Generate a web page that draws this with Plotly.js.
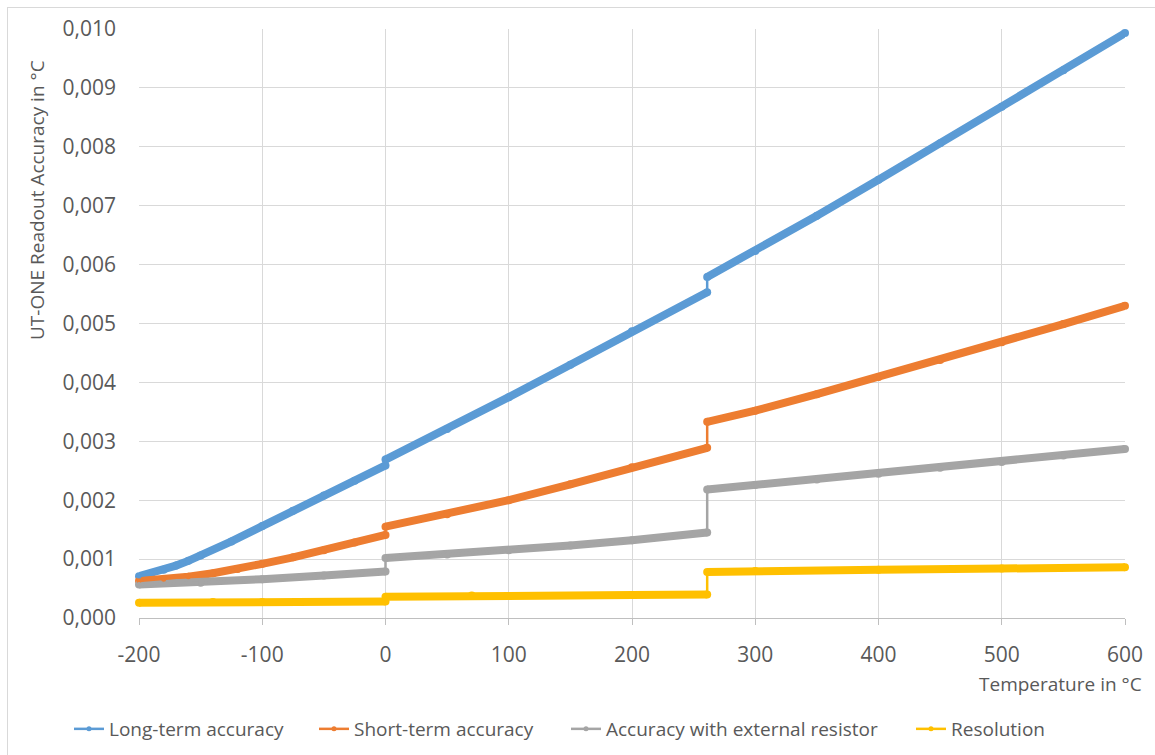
<!DOCTYPE html>
<html>
<head>
<meta charset="utf-8">
<script src="https://cdn.plot.ly/plotly-3.0.1.min.js"></script>
<style>
html,body{margin:0;padding:0;background:#fff;}
#wrap{position:relative;width:1155px;height:755px;}
#frame{position:absolute;left:7px;top:7px;width:1148px;height:748px;border-top:1px solid #d9d9d9;border-left:1px solid #d9d9d9;box-sizing:border-box;pointer-events:none;}
#chart{position:absolute;left:0;top:0;width:1155px;height:755px;}
</style>
</head>
<body>
<div id="wrap"><div id="chart"></div><div id="frame"></div></div>
<script>
// Temperature in °C (a repeated x marks a step in the curve)
const tempLong  = [-200,-190,-180,-170,-160,-150,-125,-100,-75,-50,-25,0, 0,50,100,150,200,261, 261,300,350,400,450,500,550,600];
const longTerm  = [0.00071,0.00076,0.00082,0.00089,0.00097,0.00106,0.00130,0.00156,0.00182,0.00208,0.00233,0.00259,
                   0.00269,0.00321,0.00375,0.00430,0.00487,0.00553,
                   0.00579,0.00623,0.00683,0.00744,0.00806,0.00868,0.00930,0.00993];

const tempShort = [-200,-180,-160,-140,-120,-100,-75,-50,-25,0, 0,50,100,150,200,261, 261,300,350,400,450,500,550,600];
const shortTerm = [0.00063,0.00066,0.00070,0.00076,0.00083,0.00092,0.00103,0.00115,0.00128,0.00141,
                   0.00155,0.00176,0.00200,0.00227,0.00256,0.00289,
                   0.00333,0.00352,0.00380,0.00409,0.00438,0.00468,0.00499,0.00530];

const tempExt   = [-200,-150,-100,-50,0, 0,50,100,150,200,261, 261,300,350,400,450,500,550,600];
const extRes    = [0.00057,0.00060,0.00066,0.00072,0.00079,
                   0.00102,0.00108,0.00115,0.00123,0.00132,0.00145,
                   0.00218,0.00226,0.00235,0.00245,0.00255,0.00265,0.00276,0.00287];

const tempRes   = [-200,-140,-100,0, 0,70,200,261, 261,300,400,500,600];
const resolution= [0.00026,0.00027,0.00027,0.00028,
                   0.00036,0.00038,0.00039,0.00040,
                   0.00078,0.00080,0.00082,0.00084,0.00086];

const seriesNames = ["Long-term accuracy","Short-term accuracy","Accuracy with external resistor","Resolution"];
const xTickVals = [-200,-100,0,100,200,300,400,500,600];
const yTickVals = [0,0.001,0.002,0.003,0.004,0.005,0.006,0.007,0.008,0.009,0.010];

const colors = ["#5B9BD5","#ED7D31","#A5A5A5","#FFC000"];
const xs = [tempLong,tempShort,tempExt,tempRes];
const ys = [longTerm,shortTerm,extRes,resolution];

// break the thick line where x repeats (the step is drawn thin)
function withGaps(x,y){
  const gx=[],gy=[];
  for(let i=0;i<x.length;i++){
    if(i>0 && x[i]===x[i-1]){gx.push(null);gy.push(null);}
    gx.push(x[i]);gy.push(y[i]);
  }
  return [gx,gy];
}

const legendIds=['legend','legend2','legend3','legend4'];
const traces=[];
for(let k=0;k<4;k++){
  const [gx,gy]=withGaps(xs[k],ys[k]);
  traces.push({x:gx,y:gy,type:'scatter',mode:'lines+markers',connectgaps:false,
    line:{color:colors[k],width:8},marker:{color:colors[k],size:8},
    showlegend:false,cliponaxis:false,hoverinfo:'skip'});
}
for(let k=0;k<4;k++){
  traces.push({x:xs[k],y:ys[k],type:'scatter',mode:'lines+markers',name:seriesNames[k],
    line:{color:colors[k],width:2.5},marker:{color:colors[k],size:5},
    cliponaxis:false,legend:legendIds[k]});
}

const L=139,T=29,W=986,H=589;
const tickFont={family:'"Open Sans", sans-serif',size:21,color:'#595959'};
const legFont={family:'"Open Sans", sans-serif',size:19,color:'#595959'};
const legTextStart=[109,354,606,951];
function leg(px){
  return {orientation:'h',x:(px-40-L)/W,xanchor:'left',y:(T+H-729)/H,yanchor:'middle',
    font:legFont,itemwidth:30,bgcolor:'rgba(0,0,0,0)',borderwidth:0};
}

const layout={
  width:1155,height:755,
  margin:{l:L,r:1155-L-W,t:T,b:755-T-H,autoexpand:false},
  paper_bgcolor:'#fff',plot_bgcolor:'#fff',
  separators:',.',
  showlegend:true,
  font:{family:'"Open Sans", sans-serif',color:'#595959'},
  xaxis:{range:[-200,600],tickvals:xTickVals,ticktext:xTickVals.map(String),
    showgrid:true,gridcolor:'#d9d9d9',gridwidth:1,zeroline:false,
    showline:true,linecolor:'#bfbfbf',linewidth:1,automargin:false,
    ticks:'outside',ticklen:6,tickcolor:'#bfbfbf',ticklabelstandoff:12,
    tickfont:tickFont},
  yaxis:{range:[0,0.010],tickvals:yTickVals,tickformat:'.3f',automargin:false,
    showgrid:true,gridcolor:'#d9d9d9',gridwidth:1,zeroline:false,
    showline:false,ticks:'',ticklabelstandoff:22,
    tickfont:tickFont},
  legend:leg(legTextStart[0]),
  legend2:leg(legTextStart[1]),
  legend3:leg(legTextStart[2]),
  legend4:leg(legTextStart[3]),
  annotations:[
    {text:'UT-ONE Readout Accuracy in °C',xref:'paper',yref:'paper',
     x:(37-L)/W,y:(T+H-200)/H,xanchor:'center',yanchor:'middle',textangle:-90,
     showarrow:false,font:{family:'"Open Sans", sans-serif',size:19,color:'#595959'}},
    {text:'Temperature in °C',xref:'paper',yref:'paper',
     x:(1144-L)/W,y:(T+H-684)/H,xanchor:'right',yanchor:'middle',
     showarrow:false,font:{family:'"Open Sans", sans-serif',size:19,color:'#595959'}}
  ]
};
Plotly.newPlot('chart',traces,layout,{displayModeBar:false,staticPlot:true});
</script>
</body>
</html>
